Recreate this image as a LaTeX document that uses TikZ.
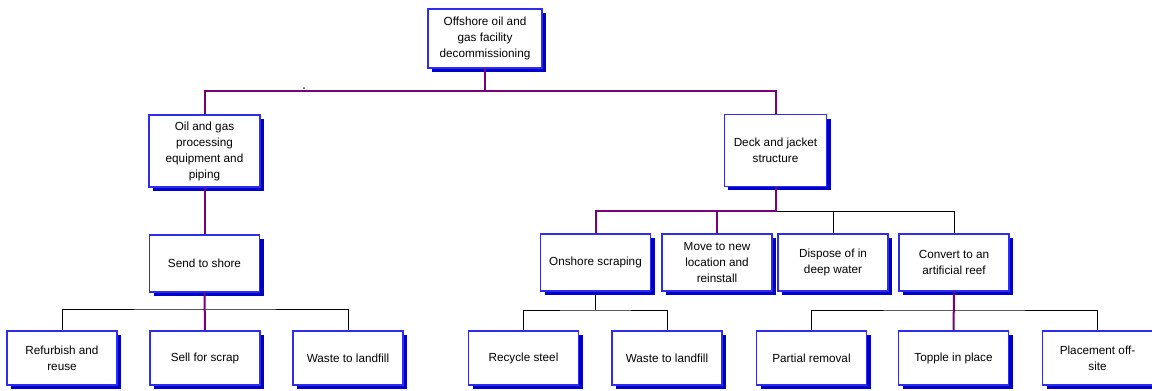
\documentclass[tikz,border=0pt]{standalone}
\usepackage{fontspec}
\setmainfont{Liberation Sans}
\usepackage{tikz}
\usetikzlibrary{shadows}
\definecolor{boxblue}{RGB}{45,45,235}
\definecolor{shadeblue}{RGB}{0,0,205}
\definecolor{linkpurple}{RGB}{120,0,120}

\begin{document}
\begin{tikzpicture}[x = 0.75pt, y = -0.75pt,
	box/.style = {draw = boxblue, line width = 0.8pt, fill = white, align = center,
		inner sep = 2pt, minimum width = 82.5pt, minimum height = 42.75pt,
		font = \fontsize{8.8}{12}\selectfont,
		drop shadow = {shadow xshift = 3.2pt, shadow yshift = -3.2pt, fill = shadeblue, opacity = 1}},
	leaf/.style = {box, minimum height = 40.5pt},
	plink/.style = {draw = linkpurple, line width = 1.5pt},
	blink/.style = {draw = black, line width = 0.75pt}]
		\useasboundingbox (0,0) rectangle (1152,390);
		% top level
		\node[box, minimum width = 85.5pt, minimum height = 44.25pt] (root) at (485,38.5) {Offshore oil and\\gas facility\\decommissioning};
		\node[box, minimum width = 83.25pt, minimum height = 54pt] (oil) at (204.5,151) {Oil and gas\\processing\\equipment and\\piping};
		\node[box, minimum width = 77pt, minimum height = 53.5pt] (deck) at (775.5,150.5) {Deck and jacket\\structure};
		% middle level
		\node[box] (shore) at (204.5,263.5) {Send to shore};
		\node[box] (onshore) at (595.5,262.5) {Onshore scraping};
		\node[box] (move) at (717,262.5) {Move to new\\location and\\reinstall};
		\node[box] (dispose) at (833,262.5) {Dispose of in\\deep water};
		\node[box] (convert) at (954,262.5) {Convert to an\\artificial reef};
		% bottom level
		\node[leaf] (refurbish) at (62,358) {Refurbish and\\reuse};
		\node[leaf] (sell) at (205,358) {Sell for scrap};
		\node[leaf] (landfill) at (348,358) {Waste to landfill};
		\node[leaf] (recycle) at (523.5,358) {Recycle steel};
		\node[leaf] (landfilltwo) at (667,358) {Waste to landfill};
		\node[leaf] (partial) at (811.5,358) {Partial removal};
		\node[leaf] (topple) at (953.5,358) {Topple in place};
		\node[leaf] (placement) at (1097.5,358) {Placement off-\\site};
		\node[inner sep = 0pt, text = black!70, font = \large] (dot) at (304,88.5) {.};
		% buses
		\coordinate (busroot) at (485,91);
		\coordinate (busdeck) at (775.5,211);
		\coordinate (busshore) at (204.5,309);
		\coordinate (busonshore) at (595.5,310);
		\coordinate (busconvert) at (954,310);
		% links
		\draw[plink] (root.south) -- (busroot);
		\draw[plink] (oil.north) |- (busroot) -| (deck.north);
		\draw[plink] (oil.south) -- (shore.north);
		\draw[blink] (busdeck) -| (convert.north);
		\draw[blink] (dispose.north) -- (dispose.north |- busdeck);
		\draw[plink] (deck.south) -- (busdeck) -| (onshore.north);
		\draw[plink] (move.north) -- (move.north |- busdeck);
		\draw[blink] (refurbish.north) |- (busshore) -| (landfill.north);
		\draw[plink] (shore.south) -- (sell.north);
		\draw[blink] (onshore.south) -- (busonshore);
		\draw[blink] (recycle.north) |- (busonshore) -| (landfilltwo.north);
		\draw[blink] (partial.north) |- (busconvert) -| (placement.north);
		\draw[plink] (convert.south) -- (topple.north);
	\end{tikzpicture}
\end{document}
